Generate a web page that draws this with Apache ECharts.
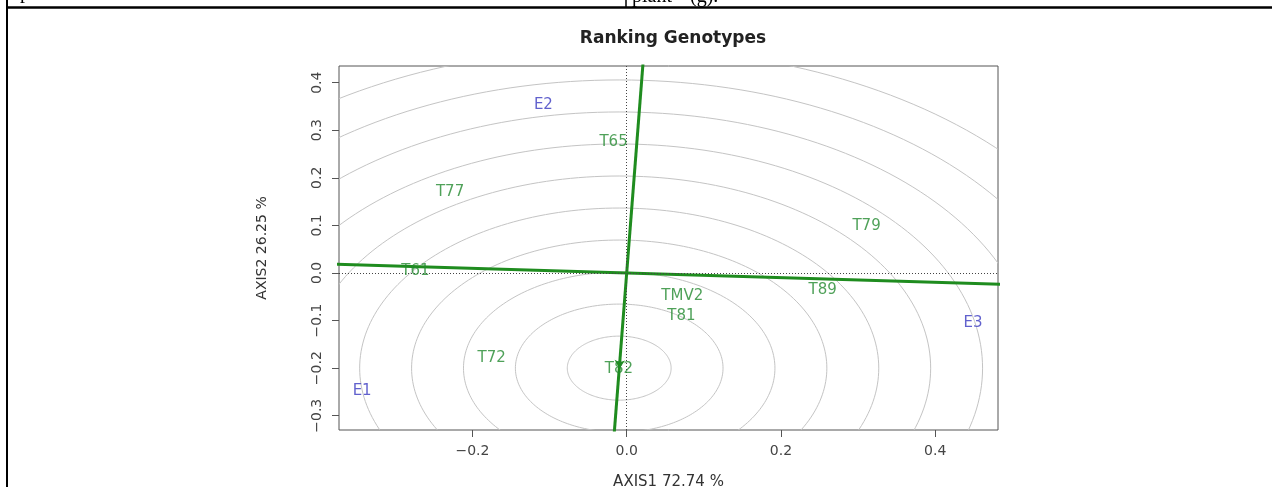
<!DOCTYPE html>
<html>
<head>
<meta charset="utf-8">
<script src="https://cdn.jsdelivr.net/npm/echarts@6/dist/echarts.min.js"></script>
<style>
html,body{margin:0;padding:0;background:#fff;}
#chart{width:1272px;height:487px;}
</style>
</head>
<body>
<div id="chart"></div>
<script>
// ---- data ----
const genotypeNames = ['T65', 'T77', 'T61', 'T79', 'T89', 'TMV2', 'T81', 'T82', 'T72'];
const genotypeX = [-0.017, -0.229, -0.274, 0.311, 0.254, 0.072, 0.071, -0.010, -0.175];
const genotypeY = [0.274, 0.169, 0.003, 0.098, -0.035, -0.048, -0.090, -0.203, -0.179];

const envNames = ['E1', 'E2', 'E3'];
const envX = [-0.343, -0.108, 0.449];
const envY = [-0.249, 0.353, -0.105];

// concentric rings around the ideal genotype point
const ringCenter = [-0.0097, -0.2];
const ringRadii = [0.0673, 0.1346, 0.2019, 0.2692, 0.3365, 0.4038, 0.4711, 0.5384, 0.6057, 0.673];

// average environment axis and its perpendicular (end points)
const aeaLine = [[-0.40, 0.0196], [0.50, -0.0245]];
const perpLine = [[-0.0168, -0.35], [0.0216, 0.45]];

const xTicks = [-0.2, 0.0, 0.2, 0.4];
const yTicks = [-0.3, -0.2, -0.1, 0.0, 0.1, 0.2, 0.3, 0.4];
const xRange = [-0.373, 0.4814];
const yRange = [-0.330, 0.435];

const xTitle = 'AXIS1 72.74 %';
const yTitle = 'AXIS2 26.25 %';
const chartTitle = 'Ranking Genotypes';

// ---- chart ----
const GREEN = '#23892f';
const BLUE = '#3a3ac0';
const FONT = 'DejaVu Sans';
const fmt = v => (v < 0 ? '\u2212' : '') + Math.abs(v).toFixed(1);

const chart = echarts.init(document.getElementById('chart'), null, {renderer: 'canvas'});

const option = {
  animation: false,
  backgroundColor: '#fff',
  title: {
    text: chartTitle,
    left: 668,
    textAlign: 'center',
    top: 25,
    textStyle: {fontFamily: FONT, fontWeight: 'bold', fontSize: 17, color: '#222'}
  },
  grid: {
    left: 339, top: 66, width: 659, height: 364,
    outerBoundsMode: 'none', containLabel: false,
    show: true, borderColor: '#555', borderWidth: 1, backgroundColor: 'transparent'
  },
  xAxis: {
    type: 'value', min: xRange[0], max: xRange[1],
    name: xTitle, nameLocation: 'middle', nameGap: 45,
    nameTextStyle: {fontFamily: FONT, fontSize: 15, color: '#333'},
    axisLine: {show: false, onZero: false},
    axisTick: {show: true, length: 7, lineStyle: {color: '#555'}, customValues: xTicks},
    axisLabel: {show: true, margin: 14, fontFamily: FONT, fontSize: 14, color: '#444',
      customValues: xTicks, formatter: fmt},
    splitLine: {show: false}
  },
  yAxis: {
    type: 'value', min: yRange[0], max: yRange[1],
    name: yTitle, nameLocation: 'middle', nameGap: 70, nameRotate: 90,
    nameTextStyle: {fontFamily: FONT, fontSize: 14, color: '#333'},
    axisLine: {show: false, onZero: false},
    axisTick: {show: true, length: 7, lineStyle: {color: '#555'}, customValues: yTicks},
    axisLabel: {show: true, margin: 15, rotate: 90, fontFamily: FONT, fontSize: 14, color: '#444',
      customValues: yTicks, formatter: fmt},
    splitLine: {show: false}
  },
  graphic: [
    {type: 'line', shape: {x1: 6, y1: 7.5, x2: 1272, y2: 7.5}, style: {stroke: '#000', lineWidth: 2.5}, z: 100},
    {type: 'line', shape: {x1: 7, y1: 0, x2: 7, y2: 487}, style: {stroke: '#000', lineWidth: 2}, z: 100},
    {type: 'line', shape: {x1: 626, y1: 0, x2: 626, y2: 7}, style: {stroke: '#000', lineWidth: 1.5}, z: 100},
    {type: 'text', x: 632, y: 7, style: {text: 'plant\u207B\u00B9 (g).', font: '20px "Liberation Serif"', fill: '#000', verticalAlign: 'bottom'}, z: 100},
    {type: 'text', x: 20, y: 3, style: {text: 'plant\u207B\u00B9', font: '20px "Liberation Serif"', fill: '#000', verticalAlign: 'bottom'}, z: 100}
  ],
  series: [
    {
      type: 'custom',
      name: 'rings',
      clip: true,
      silent: true,
      encode: {x: 0, y: 1},
      data: ringRadii.map(r => [ringCenter[0], ringCenter[1], r]),
      renderItem: function (params, api) {
        const cx = api.value(0), cy = api.value(1), r = api.value(2);
        const pts = [];
        for (let i = 0; i <= 240; i++) {
          const t = i / 240 * Math.PI * 2;
          pts.push(api.coord([cx + r * Math.cos(t), cy + r * Math.sin(t)]));
        }
        return {type: 'polyline', shape: {points: pts},
          style: {stroke: '#c4c4c4', lineWidth: 1, fill: null}};
      },
      z: 1
    },
    {
      type: 'line',
      name: 'zero',
      data: [],
      silent: true,
      markLine: {
        silent: true, symbol: 'none', label: {show: false},
        lineStyle: {color: '#444', type: [1, 2], width: 1},
        data: [{xAxis: 0}, {yAxis: 0}]
      },
      z: 2
    },
    {
      type: 'line', name: 'aea', data: aeaLine, showSymbol: false, symbol: 'none', clip: true,
      lineStyle: {color: '#1f8c1f', width: 3}, silent: true, z: 3
    },
    {
      type: 'line', name: 'perp', data: perpLine, showSymbol: false, symbol: 'none', clip: true,
      lineStyle: {color: '#1f8c1f', width: 3}, silent: true, z: 3,
      markLine: {
        silent: true, symbol: ['none', 'arrow'], symbolSize: 8, label: {show: false},
        lineStyle: {color: '#1f8c1f', type: 'solid', width: 1},
        data: [[{coord: [0, 0]}, {coord: ringCenter}]]
      }
    },
    {
      type: 'scatter', name: 'genotypes', symbolSize: 0,
      itemStyle: {color: 'rgba(0,0,0,0)'},
      data: genotypeNames.map((n, i) => ({name: n, value: [genotypeX[i], genotypeY[i]]})),
      label: {show: true, position: 'inside', formatter: '{b}', fontFamily: FONT, fontSize: 15, color: GREEN},
      z: 5
    },
    {
      type: 'scatter', name: 'environments', symbolSize: 0,
      itemStyle: {color: 'rgba(0,0,0,0)'},
      data: envNames.map((n, i) => ({name: n, value: [envX[i], envY[i]]})),
      label: {show: true, position: 'inside', formatter: '{b}', fontFamily: FONT, fontSize: 15, color: BLUE},
      z: 5
    }
  ]
};
chart.setOption(option);
</script>
</body>
</html>
